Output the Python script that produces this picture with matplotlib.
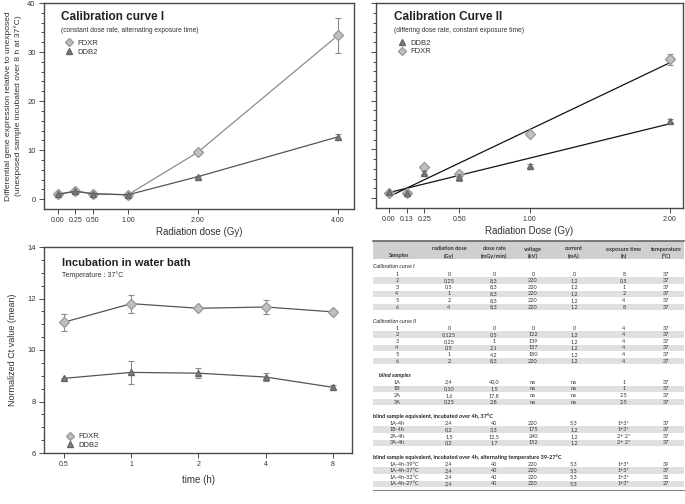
import numpy as np
import matplotlib
matplotlib.use("Agg")
import matplotlib.pyplot as plt
from matplotlib.lines import Line2D
from matplotlib.patches import Rectangle

plt.rcParams['font.family'] = ['Liberation Sans', 'DejaVu Sans']

# ---------------- data ----------------
cal1_dose = [0.0, 0.25, 0.5, 1.0, 2.0, 4.0]
cal1_dose_labels = ["0.00", "0.25", "0.50", "1.00", "2.00", "4.00"]
cal1_fdxr = [1.0, 1.7, 1.1, 0.9, 9.6, 33.4]
cal1_fdxr_err = [0.1, 0.2, 0.1, 0.1, 0.3, 3.6]
cal1_ddb2 = [1.0, 1.6, 1.1, 0.9, 4.6, 12.7]
cal1_ddb2_err = [0.1, 0.1, 0.1, 0.1, 0.2, 0.6]

cal2_dose = [0.0, 0.125, 0.25, 0.5, 1.0, 2.0]
cal2_dose_labels = ["0.00", "0.13", "0.25", "0.50", "1.00", "2.00"]
cal2_ddb2 = [1.2, 1.0, 5.2, 4.3, 6.7, 15.9]
cal2_ddb2_err = [0.1, 0.1, 0.3, 0.7, 0.3, 0.4]
cal2_fdxr = [1.1, 1.0, 6.5, 4.9, 13.2, 28.5]
cal2_fdxr_err = [0.1, 0.1, 0.3, 0.6, 0.3, 1.1]

wb_time = [0.5, 1, 2, 4, 8]
wb_time_labels = ["0.5", "1", "2", "4", "8"]
wb_fdxr = [11.08, 11.80, 11.62, 11.67, 11.48]
wb_fdxr_err = [0.33, 0.35, 0.05, 0.27, 0.05]
wb_ddb2 = [8.90, 9.13, 9.10, 8.95, 8.55]
wb_ddb2_err = [0.03, 0.45, 0.20, 0.15, 0.08]

table_header_top = ["", "radiation dose", "dose rate", "voltage", "current", "exposure time", "temperature"]
table_header_bot = ["Samples", "(Gy)", "(mGy/min)", "(kV)", "(mA)", "(h)", "(°C)"]

sec1_title = "Calibration curve I"
sec1_rows = [["1", "0", "0", "0", "0", "8", "37"],
             ["2", "0,25", "8,3", "220", "1,2", "0,5", "37"],
             ["3", "0,5", "8,3", "220", "1,2", "1", "37"],
             ["4", "1", "8,3", "220", "1,2", "2", "37"],
             ["5", "2", "8,3", "220", "1,2", "4", "37"],
             ["6", "4", "8,3", "220", "1,2", "8", "37"]]
sec2_title = "Calibration curve II"
sec2_rows = [["1", "0", "0", "0", "0", "4", "37"],
             ["2", "0,125", "0,5", "122", "1,2", "4", "37"],
             ["3", "0,25", "1", "139", "1,2", "4", "37"],
             ["4", "0,5", "2,1", "157", "1,2", "4", "37"],
             ["5", "1", "4,2", "180", "1,2", "4", "37"],
             ["6", "2", "8,3", "220", "1,2", "4", "37"]]
sec3_title = "blind samples"
sec3_rows = [["1A", "2,4", "40,0", "na", "na", "1", "37"],
             ["1B", "0,10", "1,5", "na", "na", "1", "37"],
             ["2A", "1,6", "17,8", "na", "na", "2.5", "37"],
             ["3A", "0,25", "2,8", "na", "na", "2.5", "37"]]
sec4_title = "blind sample equivalent, incubated over 4h, 37°C"
sec4_rows = [["1A-4h", "2,4", "40", "220", "5,3", "1+3*", "37"],
             ["1B-4h", "0,2", "3,3", "175", "1,2", "1+3*", "37"],
             ["2A-4h", "1,5", "12,5", "240", "1,2", "2+ 2*", "37"],
             ["3A-4h", "0,2", "1,7", "152", "1,2", "2+ 2*", "37"]]
sec5_title = "blind sample equivalent, incubated over 4h, alternating temperature 39-27°C"
sec5_rows = [["1A-4h-39°C", "2,4", "40", "220", "5,3", "1+3*", "39"],
             ["1A-4h-37°C", "2,4", "40", "220", "5,3", "1+3*", "37"],
             ["1A-4h-32°C", "2,4", "40", "220", "5,3", "1+3*", "32"],
             ["1A-4h-27°C", "2,4", "40", "220", "5,3", "1+3*", "27"]]

# ---------------- styles ----------------
W, H = 685, 504
FDXR_FACE, FDXR_EDGE = "#c0c0c0", "#9c9c9c"
DDB2_FACE, DDB2_EDGE = "#7c7c7c", "#666666"
SPINE = "#4a4a4a"
ERRC = "#8a8a8a"

fig = plt.figure(figsize=(W / 100, H / 100), dpi=100)


def box(x0, y0, x1, y1):
    return [x0 / W, 1 - y1 / H, (x1 - x0) / W, (y1 - y0) / H]


def style_axes(ax):
    for s in ax.spines.values():
        s.set_color(SPINE)
        s.set_linewidth(1.0)
    ax.tick_params(which="both", direction="out", color=SPINE, labelsize=5.5,
                   labelcolor="#333333", width=0.7, pad=2.5)
    ax.tick_params(which="major", length=3.5)
    ax.tick_params(which="minor", length=2)


def mk_legend(ax, order, anchor):
    handles = []
    for name in order:
        if name == "FDXR":
            handles.append(Line2D([], [], linestyle="none", marker="D", markersize=4.5,
                                  markerfacecolor=FDXR_FACE, markeredgecolor=FDXR_EDGE, label="FDXR"))
        else:
            handles.append(Line2D([], [], linestyle="none", marker="^", markersize=5,
                                  markerfacecolor=DDB2_FACE, markeredgecolor=DDB2_EDGE, label="DDB2"))
    ax.legend(handles=handles, loc="upper left", bbox_to_anchor=anchor, frameon=False,
              fontsize=5.5, handletextpad=0.6, labelspacing=0.15, borderpad=0,
              handlelength=1.0, labelcolor="#333333")


MS = 4.6
# ---------------- Panel 1 ----------------
ax1 = fig.add_axes(box(44, 3, 354, 209))
style_axes(ax1)
ax1.errorbar(cal1_dose, cal1_fdxr, yerr=cal1_fdxr_err, color="#8c8c8c", lw=0.9,
             marker="D", markersize=MS, markerfacecolor=FDXR_FACE, markeredgecolor=FDXR_EDGE,
             ecolor=ERRC, elinewidth=0.8, capsize=2.5, capthick=0.8, zorder=3)
ax1.errorbar(cal1_dose, cal1_ddb2, yerr=cal1_ddb2_err, color="#555555", lw=0.9,
             marker="^", markersize=MS, markerfacecolor=DDB2_FACE, markeredgecolor=DDB2_EDGE,
             ecolor=ERRC, elinewidth=0.8, capsize=2.5, capthick=0.8, zorder=4)
ax1.set_xlim(-0.2, 4.23)
ax1.set_ylim(-2, 40)
ax1.set_xticks(cal1_dose)
ax1.set_xticklabels(cal1_dose_labels, fontsize=5)
ax1.set_yticks([0, 10, 20, 30, 40])
ax1.set_yticks(np.arange(0, 41, 2), minor=True)
ax1.set_xlabel("Radiation dose (Gy)", fontsize=7, color="#333333", labelpad=2)
ax1.set_ylabel("Differential gene expression relative to unexposed\n(unexposed sample incubated over 8 h at 37°C)",
               fontsize=6.1, color="#333333", labelpad=4, linespacing=1.35)
ax1.text(0.055, 0.93, "Calibration curve I", transform=ax1.transAxes, fontsize=8.5,
         fontweight="bold", color="#222222", va="center")
ax1.text(0.055, 0.865, "(constant dose rate, alternating exposure time)", transform=ax1.transAxes,
         fontsize=4.8, color="#333333", va="center")
mk_legend(ax1, ["FDXR", "DDB2"], (0.055, 0.84))

# ---------------- Panel 2 ----------------
ax2 = fig.add_axes(box(376, 3, 683, 208))
style_axes(ax2)
xs = np.array(cal2_dose)
xx = np.array([0.0, 2.0])
for ys in (cal2_fdxr, cal2_ddb2):
    p = np.polyfit(xs, ys, 1)
    ax2.plot(xx, np.polyval(p, xx), color="#111111", lw=0.9, zorder=2)
ax2.errorbar(cal2_dose, cal2_fdxr, yerr=cal2_fdxr_err, linestyle="none",
             marker="D", markersize=MS, markerfacecolor=FDXR_FACE, markeredgecolor=FDXR_EDGE,
             ecolor=ERRC, elinewidth=0.8, capsize=2.5, capthick=0.8, zorder=3)
ax2.errorbar(cal2_dose, cal2_ddb2, yerr=cal2_ddb2_err, linestyle="none",
             marker="^", markersize=MS, markerfacecolor=DDB2_FACE, markeredgecolor=DDB2_EDGE,
             ecolor=ERRC, elinewidth=0.8, capsize=2.5, capthick=0.8, zorder=4)
ax2.set_xlim(-0.093, 2.093)
ax2.set_ylim(-2, 40)
ax2.set_xticks(cal2_dose)
ax2.set_xticklabels(cal2_dose_labels, fontsize=5)
ax2.set_yticks([0, 10, 20, 30, 40])
ax2.set_yticks(np.arange(0, 41, 2), minor=True)
ax2.set_yticklabels([])
ax2.set_xlabel("Radiation Dose (Gy)", fontsize=7, color="#333333", labelpad=2)
ax2.text(0.06, 0.93, "Calibration Curve II", transform=ax2.transAxes, fontsize=8.5,
         fontweight="bold", color="#222222", va="center")
ax2.text(0.06, 0.865, "(differing dose rate, constant exposure time)", transform=ax2.transAxes,
         fontsize=4.8, color="#333333", va="center")
mk_legend(ax2, ["DDB2", "FDXR"], (0.06, 0.84))

# ---------------- Panel 3 ----------------
ax3 = fig.add_axes(box(44, 247, 352, 453))
style_axes(ax3)
ax3.errorbar(wb_time, wb_fdxr, yerr=wb_fdxr_err, color="#555555", lw=0.9,
             marker="D", markersize=MS, markerfacecolor=FDXR_FACE, markeredgecolor=FDXR_EDGE,
             ecolor=ERRC, elinewidth=0.8, capsize=2.5, capthick=0.8, zorder=3)
ax3.errorbar(wb_time, wb_ddb2, yerr=wb_ddb2_err, color="#555555", lw=0.9,
             marker="^", markersize=MS, markerfacecolor=DDB2_FACE, markeredgecolor=DDB2_EDGE,
             ecolor=ERRC, elinewidth=0.8, capsize=2.5, capthick=0.8, zorder=4)
ax3.set_xscale("log", base=2)
ax3.set_xlim(0.407, 9.73)
ax3.set_ylim(6, 14)
ax3.set_xticks(wb_time)
ax3.set_xticklabels(wb_time_labels, fontsize=5)
ax3.xaxis.set_minor_locator(matplotlib.ticker.NullLocator())
ax3.set_yticks([6, 8, 10, 12, 14])
ax3.set_yticks(np.arange(6, 14.01, 0.5), minor=True)
ax3.set_xlabel("time (h)", fontsize=7, color="#333333", labelpad=5)
ax3.set_ylabel("Normalized Ct value (mean)", fontsize=6.5, color="#333333", labelpad=7)
ax3.text(0.06, 0.92, "Incubation in water bath", transform=ax3.transAxes, fontsize=8,
         fontweight="bold", color="#222222", va="center")
ax3.text(0.06, 0.865, "Temperature : 37°C", transform=ax3.transAxes,
         fontsize=5, color="#333333", va="center")
mk_legend(ax3, ["FDXR", "DDB2"], (0.06, 0.115))

# ---------------- Table ----------------
axt = fig.add_axes(box(0, 0, W, H))
axt.set_xlim(0, W)
axt.set_ylim(H, 0)
axt.axis("off")
axt.patch.set_alpha(0)

TX0, TX1 = 373, 684
col_x = [397, 449, 494, 533, 574, 624, 666]
TFONT = ["Lato", "DejaVu Sans"]
TFS = 4.0
TC = "#333333"

axt.add_patch(Rectangle((TX0, 241), TX1 - TX0, 18, facecolor="#cfcfcf", edgecolor="none"))
axt.plot([TX0, TX1], [241, 241], color="#666666", lw=1.2)
for i in range(7):
    if table_header_top[i]:
        axt.text(col_x[i], 249, table_header_top[i], ha="center", va="center",
                 fontsize=TFS, color=TC, family=TFONT, fontweight="bold")
    axt.text(col_x[i] + (2 if i == 0 else 0), 256, table_header_bot[i], ha="center", va="center",
             fontsize=TFS, color=TC, family=TFONT, fontweight="bold")

sections = [(sec1_title, sec1_rows, "italic", "normal", 373, False),
            (sec2_title, sec2_rows, "italic", "normal", 373, False),
            (sec3_title, sec3_rows, "italic", "bold", 379, False),
            (sec4_title, sec4_rows, "normal", "bold", 373, True),
            (sec5_title, sec5_rows, "normal", "bold", 373, True)]
y = 267.0
RH = 6.6
for title, rows, fst, fw, tx, leftname in sections:
    axt.text(tx, y, title, ha="left", va="center", fontsize=TFS, style=fst, fontweight=fw,
             color="#222222", family=TFONT)
    y += 7.0
    for r, row in enumerate(rows):
        if r % 2 == 1:
            axt.add_patch(Rectangle((TX0, y - RH / 2), TX1 - TX0, RH, facecolor="#e0e0e0",
                                    edgecolor="none"))
        for i, val in enumerate(row):
            if i == 0 and leftname:
                axt.text(390, y, val, ha="left", va="center", fontsize=TFS, color=TC, family=TFONT)
            else:
                axt.text(col_x[i], y, val, ha="center", va="center", fontsize=TFS, color=TC,
                         family=TFONT)
        y += RH
    y += 7.5
axt.plot([TX0, TX1], [y - 7.5 - RH / 2 + 2.5, y - 7.5 - RH / 2 + 2.5], color="#888888", lw=0.8)

fig.savefig("out.png", dpi=100)
